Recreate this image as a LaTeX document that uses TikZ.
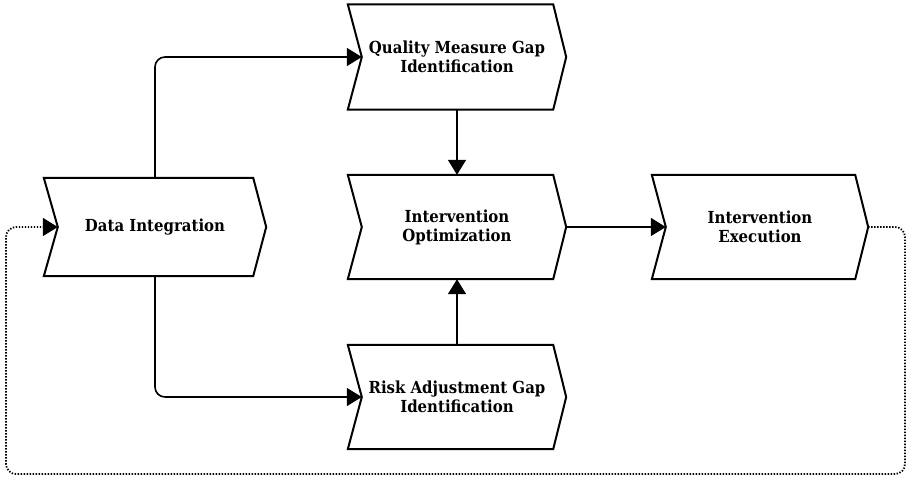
\documentclass[tikz,border=0pt]{standalone}
\usepackage{fontspec}
\setmainfont{DejaVu Serif Condensed}
\usetikzlibrary{calc,arrows.meta}
\begin{document}
\begin{tikzpicture}[x=1pt,y=-1pt,
  stepbox/.style={draw=none,rectangle,inner sep=0pt,align=center,
    font=\bfseries\fontsize{16.6}{19}\selectfont},
  conn/.style={line width=1.6pt,rounded corners=10pt,-{Triangle[length=15pt,width=18pt]}},
  dotconn/.style={line width=1.8pt,dash pattern=on 1.4pt off 1.6pt,rounded corners=10pt,-{Triangle[length=15pt,width=18pt]}},
  outline/.style={line width=2pt,line join=miter}]
\useasboundingbox (0,0) rectangle (912,483);
\newcommand\chevdraw[1]{\draw[outline] (#1.north west) -- ($(#1.north east)+(-13,0)$) -- (#1.east) -- ($(#1.south east)+(-13,0)$) -- (#1.south west) -- ($(#1.west)+(14,0)$) -- cycle;}
\node[stepbox,minimum width=222pt,minimum height=98pt] (di) at (155,227) {Data Integration};
\node[stepbox,minimum width=218pt,minimum height=105pt] (q) at (457,57) {Quality Measure Gap\\Identification};
\node[stepbox,minimum width=218pt,minimum height=104pt] (opt) at (457,227) {Intervention\\Optimization};
\node[stepbox,minimum width=218pt,minimum height=104pt] (risk) at (457,397) {Risk Adjustment Gap\\Identification};
\node[stepbox,minimum width=216pt,minimum height=104pt] (ex) at (760,227) {Intervention\\Execution};
\chevdraw{di}\chevdraw{q}\chevdraw{opt}\chevdraw{risk}\chevdraw{ex}
\coordinate (di-in) at ($(di.west)+(14,0)$);
\coordinate (q-in) at ($(q.west)+(14,0)$);
\coordinate (risk-in) at ($(risk.west)+(14,0)$);
\coordinate (ex-in) at ($(ex.west)+(14,0)$);
\coordinate (rb) at (905,474);
\coordinate (lb) at (6,474);
\draw[conn] (di.north) |- (q-in);
\draw[conn] (di.south) |- (risk-in);
\draw[conn,rounded corners=0pt] (q.south) -- (opt.north);
\draw[conn,rounded corners=0pt] (risk.north) -- (opt.south);
\draw[conn,rounded corners=0pt] (opt.east) -- (ex-in);
\draw[dotconn] (ex.east) -| (rb) -- (lb) |- (di-in);
\end{tikzpicture}
\end{document}
